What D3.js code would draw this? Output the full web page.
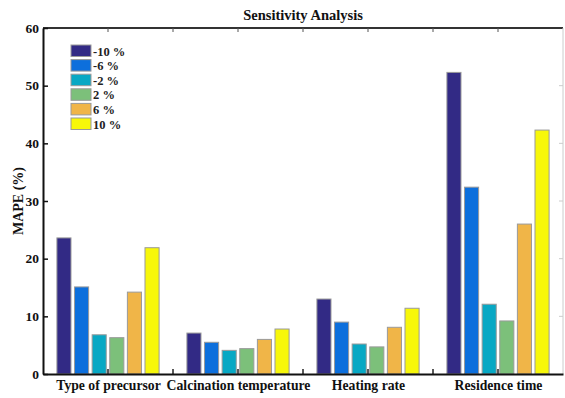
<!DOCTYPE html>
<html lang="en">
<head>
<meta charset="utf-8" />
<title>Sensitivity Analysis</title>
<script src="https://cdn.jsdelivr.net/npm/d3@7"></script>
<style>
  body { margin: 0; background: #fff; }
  text { font-family: "Liberation Serif", "Times New Roman", serif; font-weight: bold; }
</style>
</head>
<body>
<svg width="565" height="398"></svg>
<script>
// data
var categories = ["Type of precursor", "Calcination temperature", "Heating rate", "Residence time"];
var seriesNames = ["-10 %", "-6 %", "-2 %", "2 %", "6 %", "10 %"];
var seriesColors = ["#322a85", "#0d6fdc", "#08a8c4", "#7cc07a", "#f0b548", "#f7f70a"];
var mape = [
  [23.6, 15.1, 6.8, 6.3, 14.2, 21.9],   // Type of precursor
  [7.1, 5.5, 4.1, 4.4, 6.0, 7.8],       // Calcination temperature
  [13.0, 9.0, 5.2, 4.7, 8.1, 11.4],     // Heating rate
  [52.3, 32.4, 12.1, 9.2, 26.0, 42.3]   // Residence time
];
var yTicks = [0, 10, 20, 30, 40, 50, 60];

var svg = d3.select("svg");
var plotL = 43, plotR = 563, plotT = 28, plotB = 374;

var x = d3.scaleLinear().domain([0.5, 4.5]).range([plotL, plotR]);
var y = d3.scaleLinear().domain([0, 60]).range([plotB, plotT]);
var inner = d3.scaleBand().domain(seriesNames).range([-0.393, 0.393]).paddingInner(0.2);

// bars
categories.forEach(function (cat, i) {
  svg.append("g").selectAll("rect")
    .data(mape[i])
    .enter().append("rect")
    .attr("x", function (d, j) { return x(i + 1 + inner(seriesNames[j])); })
    .attr("width", function () { return x(0.5 + inner.bandwidth()) - x(0.5); })
    .attr("y", function (d) { return y(d); })
    .attr("height", function (d) { return y(0) - y(d); })
    .attr("fill", function (d, j) { return seriesColors[j]; })
    .attr("stroke", "#9a9a9a")
    .attr("stroke-width", 1);
});

// box: top and right lines
svg.append("line").attr("x1", plotL).attr("x2", plotR).attr("y1", plotT).attr("y2", plotT)
  .attr("stroke", "#333").attr("stroke-width", 2);
svg.append("line").attr("x1", plotR).attr("x2", plotR).attr("y1", plotT).attr("y2", plotB)
  .attr("stroke", "#ccc").attr("stroke-width", 1);

// half-step ticks along top and bottom
var xTickVals = [1, 1.5, 2, 2.5, 3, 3.5, 4];
svg.append("g").selectAll("line").data(xTickVals).enter().append("line")
  .attr("x1", function (d) { return x(d); }).attr("x2", function (d) { return x(d); })
  .attr("y1", plotB).attr("y2", plotB - 5).attr("stroke", "#222").attr("stroke-width", 1.5);
svg.append("g").selectAll("line").data(xTickVals).enter().append("line")
  .attr("x1", function (d) { return x(d); }).attr("x2", function (d) { return x(d); })
  .attr("y1", plotT).attr("y2", plotT + 4).attr("stroke", "#555").attr("stroke-width", 1);

// right side ticks (faint)
svg.append("g").selectAll("line").data(yTicks.slice(1, -1)).enter().append("line")
  .attr("x1", plotR).attr("x2", plotR - 4)
  .attr("y1", function (d) { return y(d); }).attr("y2", function (d) { return y(d); })
  .attr("stroke", "#ccc");

// y axis
var yAxis = svg.append("g")
  .attr("transform", "translate(" + plotL + ",0)")
  .call(d3.axisLeft(y).tickValues(yTicks).tickSizeInner(-5).tickSizeOuter(0).tickPadding(4));
yAxis.select(".domain").attr("stroke", "#111").attr("stroke-width", 2);
yAxis.selectAll(".tick line").attr("stroke", "#111").attr("stroke-width", 1.5);
yAxis.selectAll(".tick text").attr("font-size", 13.5).attr("fill", "#111")
  .attr("font-family", "Liberation Serif, serif").attr("font-weight", "bold");

// x axis baseline and category labels
var xAxis = svg.append("g")
  .attr("transform", "translate(0," + plotB + ")")
  .call(d3.axisBottom(x).tickValues([1, 2, 3, 4])
    .tickFormat(function (d) { return categories[d - 1]; })
    .tickSize(0).tickPadding(6));
xAxis.select(".domain").attr("stroke", "#111").attr("stroke-width", 2);
xAxis.selectAll(".tick text").attr("font-size", 13.7).attr("fill", "#111")
  .attr("font-family", "Liberation Serif, serif").attr("font-weight", "bold");

// title
svg.append("text")
  .attr("x", (plotL + plotR) / 2).attr("y", 20)
  .attr("text-anchor", "middle").attr("font-size", 14.5).attr("fill", "#111")
  .text("Sensitivity Analysis");

// y label
svg.append("text")
  .attr("transform", "translate(23," + (plotT + plotB) / 2 + ") rotate(-90)")
  .attr("text-anchor", "middle").attr("font-size", 14).attr("fill", "#111")
  .text("MAPE (%)");

// legend
var legend = svg.append("g").attr("transform", "translate(71,45)");
var rows = legend.selectAll("g").data(seriesNames).enter().append("g")
  .attr("transform", function (d, i) { return "translate(0," + i * 14.6 + ")"; });
rows.append("rect")
  .attr("width", 20).attr("height", 11.5)
  .attr("fill", function (d, i) { return seriesColors[i]; })
  .attr("stroke", "#9a9a9a");
rows.append("text")
  .attr("x", 22).attr("y", 10.5)
  .attr("font-size", 12.5).attr("fill", "#222")
  .text(function (d) { return d; });
</script>
</body>
</html>
